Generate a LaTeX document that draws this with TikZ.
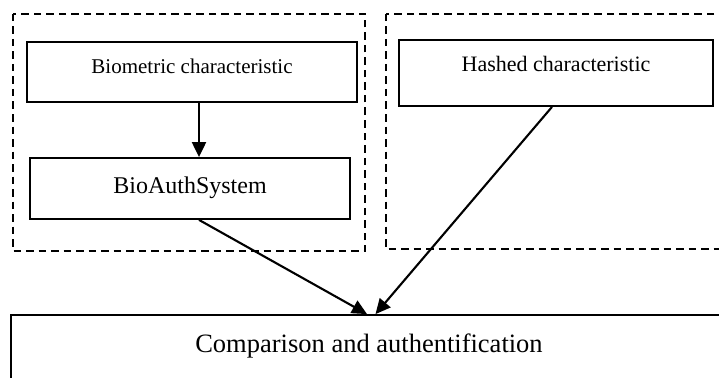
\documentclass[tikz,border=0pt]{standalone}
\usepackage{fontspec}
\setmainfont{Liberation Serif}
\usetikzlibrary{arrows.meta}

\tikzset{
  box/.style={draw, line width=1.8pt, rectangle, inner sep=0pt},
  dashbox/.style={draw, line width=1.7pt, dash pattern=on 7.5pt off 5pt},
  arr/.style={line width=2.1pt, -{Triangle[length=15pt,width=14pt]}},
  txt/.style={anchor=base, inner sep=0pt}
}

\begin{document}
\begin{tikzpicture}[x=1pt,y=-1pt]
  \useasboundingbox (0,0) rectangle (719,377);
  \clip (0,0) rectangle (719,377);
  % dashed groups
  \draw[dashbox] (13,14) rectangle (365,251);
  \draw[dashbox] (386,14) rectangle (740,249);
  % boxes
  \node[box, minimum width=330pt, minimum height=60pt] (bio) at (192,72) {};
  \node[box, minimum width=320pt, minimum height=61pt] (auth) at (190,188.5) {};
  \node[box, minimum width=314pt, minimum height=66pt] (hash) at (556,73) {};
  \node[box, minimum width=729pt, minimum height=105pt] (comp) at (375.5,367.5) {};
  % texts
  \node[txt, font=\fontsize{21}{25}\selectfont] (biotext) at (192,74) {Biometric characteristic};
  \node[txt, font=\fontsize{24}{28}\selectfont] (authtext) at (190,193) {BioAuthSystem};
  \node[txt, font=\fontsize{22}{26}\selectfont] (hashtext) at (556,72) {Hashed characteristic};
  \node[txt, font=\fontsize{26.5}{30}\selectfont] (comptext) at (369,352) {Comparison and authentification};
  % connectors
  \draw[arr] ([xshift=7pt]bio.south) -- ([xshift=9pt]auth.north);
  \draw[arr] ([xshift=9pt]auth.south) -- ([xshift=-8.5pt]comp.north);
  \draw[arr] ([xshift=-4pt]hash.south) -- (comp.north);
\end{tikzpicture}
\end{document}
